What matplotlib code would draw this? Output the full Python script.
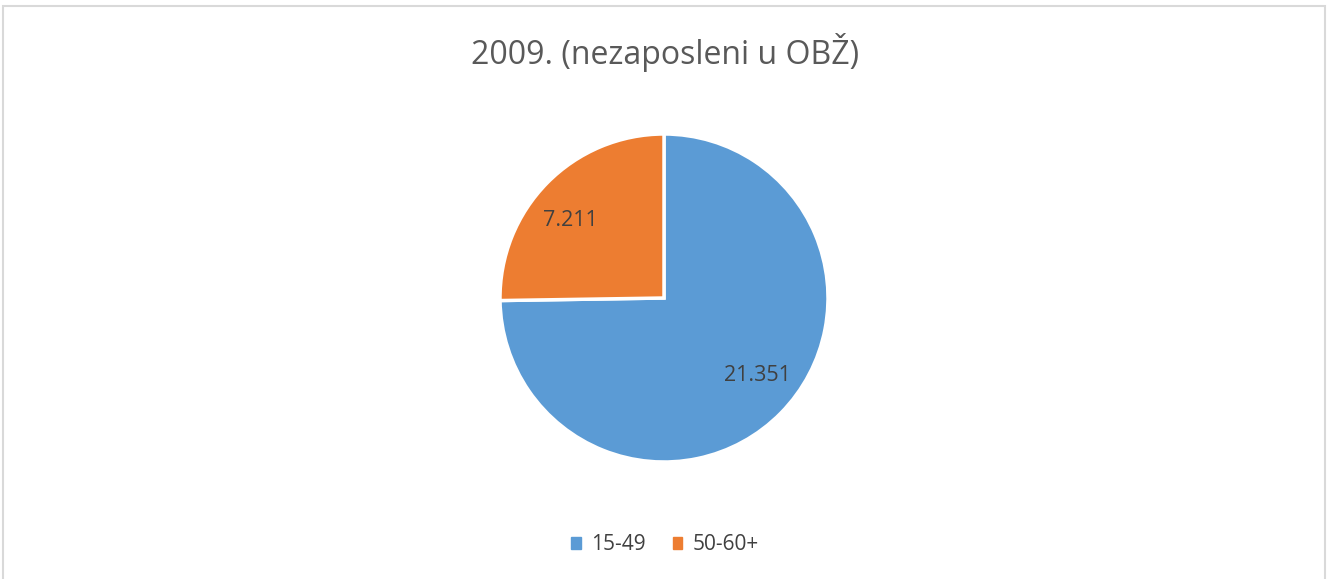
import numpy as np
import matplotlib.pyplot as plt
from matplotlib.patches import Rectangle

# data
categories = ['15-49', '50-60+']
values = [21351, 7211]
colors = ['#5B9BD5', '#ED7D31']
title = '2009. (nezaposleni u OBŽ)'

plt.rcParams['font.family'] = ['Open Sans', 'DejaVu Sans']

fig = plt.figure(figsize=(13.3, 5.79), dpi=100)

# light grey chart border
fig.patches.append(Rectangle((3 / 1330, -0.01), 1322 / 1330, 1 - 6 / 579 + 0.01,
                             transform=fig.transFigure, fill=False,
                             edgecolor='#D9D9D9', linewidth=1.5))

ax = fig.add_axes([500 / 1330, 117 / 579, 328 / 1330, 328 / 579])

wedges = ax.pie(values, colors=colors, startangle=90, counterclock=False,
                wedgeprops=dict(edgecolor='white', linewidth=2.5))[0]

# data labels inside the slices
for w, v in zip(wedges, values):
    ang = np.deg2rad((w.theta1 + w.theta2) / 2 + 5)
    ax.text(0.74 * np.cos(ang), 0.74 * np.sin(ang), f'{v:,}'.replace(',', '.'),
            ha='center', va='center', fontsize=15.5, color='#404040')
ax.set_xlim(-1, 1)
ax.set_ylim(-1, 1)
ax.set_aspect('equal')

fig.text(0.5, 1 - 52 / 579, title, ha='center', va='center', fontsize=23, color='#595959')

handles = [Rectangle((0, 0), 1, 1, color=c) for c in colors]
fig.legend(handles, categories, loc='center', bbox_to_anchor=(0.5, 1 - 545 / 579),
           ncol=2, frameon=False, fontsize=15, handlelength=0.45, handleheight=0.45,
           handletextpad=0.5, columnspacing=1.3, labelcolor='#404040')

fig.savefig('out.png', dpi=100)
